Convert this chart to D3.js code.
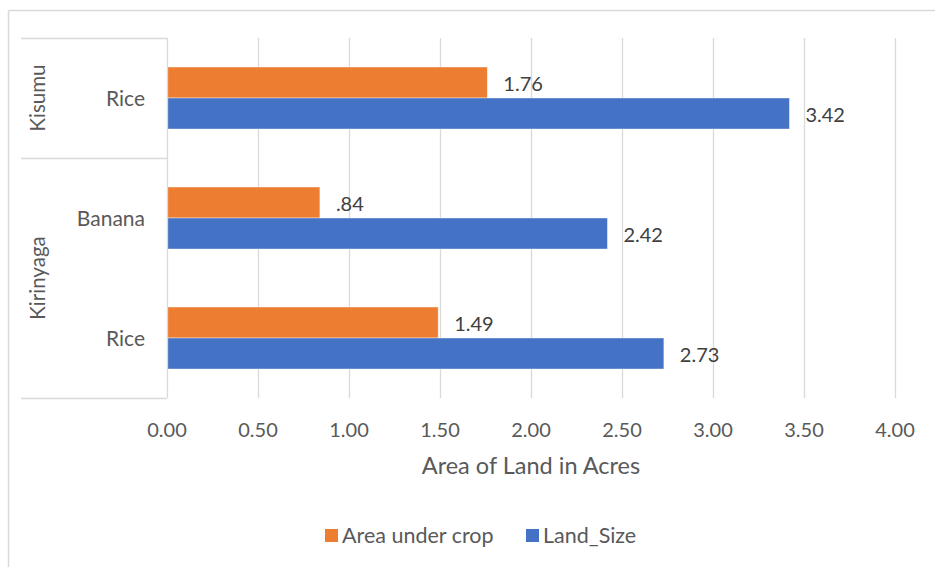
<!DOCTYPE html>
<html>
<head>
<meta charset="utf-8">
<script src="https://cdn.jsdelivr.net/npm/d3@7"></script>
<style>
  html, body { margin: 0; padding: 0; background: #fff; }
  svg text { font-family: Lato, "Open Sans", sans-serif; fill: #595959; }
</style>
</head>
<body>
<svg id="chart" width="935" height="567"></svg>
<script>
// Rows, top to bottom
const regions = ["Kisumu", "Kirinyaga", "Kirinyaga"];
const crops = ["Rice", "Banana", "Rice"];
const areaUnderCrop = [1.76, 0.84, 1.49];
const landSize = [3.42, 2.42, 2.73];
const seriesNames = ["Area under crop", "Land_Size"];
const seriesColors = ["#ED7D31", "#4472C4"];
const xTicks = [0, 0.5, 1, 1.5, 2, 2.5, 3, 3.5, 4];
const xTitle = "Area of Land in Acres";

const svg = d3.select("#chart");
const plot = { left: 167, right: 895, top: 38, bottom: 398 };
const catLeft = 21;

// chart frame (top and left edges)
svg.append("line").attr("x1", 8.5).attr("x2", 935).attr("y1", 10.5).attr("y2", 10.5)
  .attr("stroke", "#D9D9D9").attr("stroke-width", 1.5);
svg.append("line").attr("x1", 8.5).attr("x2", 8.5).attr("y1", 10.5).attr("y2", 567)
  .attr("stroke", "#D9D9D9").attr("stroke-width", 1.5);

const x = d3.scaleLinear().domain([0, 4]).range([plot.left, plot.right]);
const rowIdx = d3.range(crops.length);
const y = d3.scaleBand().domain(rowIdx).range([plot.top, plot.bottom]);
const barH = 31;
const inner = d3.scaleBand().domain([0, 1]).range([0, barH * 2]);

// vertical gridlines
svg.append("g").selectAll("line").data(xTicks.slice(1)).join("line")
  .attr("x1", d => Math.round(x(d)) + 0.5).attr("x2", d => Math.round(x(d)) + 0.5)
  .attr("y1", plot.top).attr("y2", plot.bottom)
  .attr("stroke", "#D9D9D9").attr("stroke-width", 1.3);

// x tick labels
svg.append("g").selectAll("text").data(xTicks).join("text")
  .attr("x", d => x(d)).attr("y", 437)
  .attr("text-anchor", "middle").attr("font-size", 20)
  .text(d3.format(".2f"));

svg.append("text").attr("x", (plot.left + plot.right) / 2).attr("y", 474)
  .attr("text-anchor", "middle").attr("font-size", 23.5)
  .text(xTitle);

// bars
const series = [areaUnderCrop, landSize];
const labelFmt = v => d3.format(".2f")(v).replace(/^0\./, ".");
const barTop = (i, s) => y(i) + (y.bandwidth() - barH * 2) / 2 + inner(s);
series.forEach((vals, s) => {
  const g = svg.append("g");
  g.selectAll("rect").data(rowIdx).join("rect")
    .attr("x", x(0))
    .attr("y", i => barTop(i, s))
    .attr("width", i => x(vals[i]) - x(0))
    .attr("height", barH)
    .attr("fill", seriesColors[s])
    .attr("stroke", "#fff").attr("stroke-opacity", 0.5).attr("stroke-width", 0.8);
  g.selectAll("text").data(rowIdx).join("text")
    .attr("x", i => x(vals[i]) + 16)
    .attr("y", i => barTop(i, s) + barH / 2 + 8)
    .attr("font-size", 20)
    .style("fill", "#404040")
    .text(i => labelFmt(vals[i]));
});

// multi-level category axis
const axisG = svg.append("g").attr("stroke", "#D9D9D9").attr("stroke-width", 1.3);
axisG.append("line").attr("x1", plot.left + 0.5).attr("x2", plot.left + 0.5)
  .attr("y1", plot.top).attr("y2", plot.bottom);
const groups = [];
regions.forEach((r, i) => {
  if (groups.length && groups[groups.length - 1].name === r) groups[groups.length - 1].end = i;
  else groups.push({ name: r, start: i, end: i });
});
const boundaries = [plot.top].concat(groups.map(g => y(g.end) + y.bandwidth()));
axisG.selectAll(".sep").data(boundaries).join("line")
  .attr("x1", catLeft).attr("x2", plot.left)
  .attr("y1", d => Math.round(d) + 0.5).attr("y2", d => Math.round(d) + 0.5);

svg.append("g").selectAll("text").data(rowIdx).join("text")
  .attr("x", 145).attr("y", i => y(i) + y.bandwidth() / 2 + 8)
  .attr("text-anchor", "end").attr("font-size", 21)
  .text(i => crops[i]);

svg.append("g").selectAll("text").data(groups).join("text")
  .attr("transform", g => {
    const cy = (y(g.start) + y(g.end) + y.bandwidth()) / 2;
    return `translate(45,${cy}) rotate(-90)`;
  })
  .attr("text-anchor", "middle").attr("font-size", 20.5)
  .text(g => g.name);

// legend
const legendItems = [
  { name: seriesNames[0], color: seriesColors[0], x: 325 },
  { name: seriesNames[1], color: seriesColors[1], x: 526 }
];
const lg = svg.append("g").selectAll("g").data(legendItems).join("g")
  .attr("transform", d => `translate(${d.x},529)`);
lg.append("rect").attr("width", 13).attr("height", 13).attr("fill", d => d.color);
lg.append("text").attr("x", 17).attr("y", 14).attr("font-size", 21.5).text(d => d.name);
</script>
</body>
</html>
